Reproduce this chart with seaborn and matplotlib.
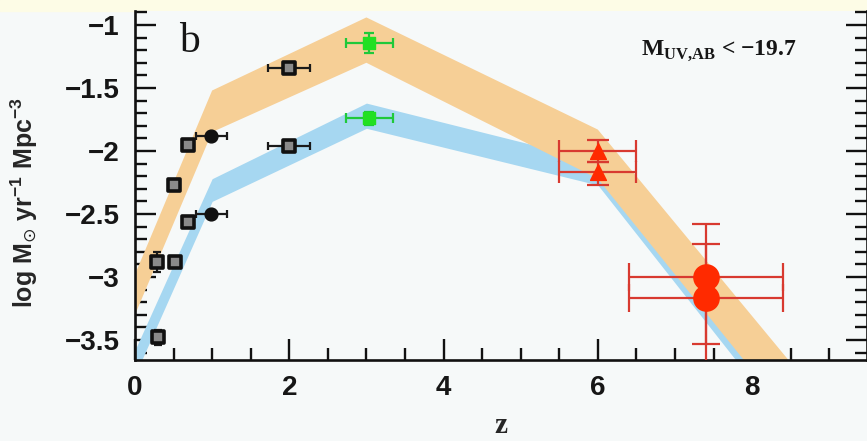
import numpy as np
import matplotlib
matplotlib.use("Agg")
import matplotlib.pyplot as plt
from matplotlib.patches import Rectangle
from matplotlib.ticker import MultipleLocator
import seaborn as sns
import pandas as pd

# ---- model bands (redshift nodes, log SFR density edges) ----
band_z = [0.0, 1.0, 3.0, 6.0, 9.0]
orange_hi = [-2.98, -1.52, -0.94, -1.83, -4.05]
orange_lo = [-3.30, -1.85, -1.30, -2.22, -4.50]
blue_hi = [-3.58, -2.22, -1.62, -2.08, -4.30]
blue_lo = [-3.78, -2.40, -1.82, -2.27, -4.60]

# ---- black open squares ----
sq_z = [0.28, 0.30, 0.50, 0.52, 0.69, 0.69, 2.0, 2.0]
sq_v = [-2.88, -3.48, -2.27, -2.88, -1.95, -2.56, -1.34, -1.96]
sq_xerr = [0.0, 0.0, 0.0, 0.0, 0.0, 0.0, 0.27, 0.27]
sq_yerr = [0.08, 0.06, 0.02, 0.02, 0.02, 0.02, 0.03, 0.03]

# ---- black filled circles ----
ci_z = [0.99, 0.99]
ci_v = [-1.88, -2.50]
ci_xerr = [0.2, 0.2]
ci_yerr = [0.02, 0.02]

# ---- green squares ----
gr_z = [3.04, 3.04]
gr_v = [-1.14, -1.74]
gr_xerr = [0.31, 0.31]
gr_yerr = [0.08, 0.05]

# ---- red triangles ----
tr_z = [6.0, 6.0]
tr_v = [-2.00, -2.17]
tr_xerr = [0.5, 0.5]
tr_yerr_lo = [0.09, 0.10]
tr_yerr_hi = [0.09, 0.08]

# ---- red circles ----
rc_z = [7.4, 7.4]
rc_v = [-3.00, -3.17]
rc_xerr = [1.0, 1.0]
rc_yerr_lo = [0.80, 0.36]
rc_yerr_hi = [0.42, 0.43]

xticks = [0, 2, 4, 6, 8]
yticks = [-1, -1.5, -2, -2.5, -3, -3.5]
ytick_labels = ['\u22121', '\u22121.5', '\u22122', '\u22122.5', '\u22123', '\u22123.5']

sns.set_style("ticks")
plt.rcParams['font.family'] = ['Liberation Sans', 'DejaVu Sans']
plt.rcParams['axes.unicode_minus'] = True

bg = '#f6f9f9'
fig = plt.figure(figsize=(8.67, 4.41), dpi=100, facecolor=bg)
fig.patches.append(Rectangle((0, 430 / 441), 1, 11 / 441, transform=fig.transFigure,
                             color='#fdfce6', zorder=-1))
ax = fig.add_axes([135 / 867, 81 / 441, (867 - 135) / 867, (360 - 11) / 441])
ax.set_facecolor(bg)

ax.fill_between(band_z, blue_lo, blue_hi, color='#a6d7f1', lw=0, zorder=1)
ax.fill_between(band_z, orange_lo, orange_hi, color='#f6cf96', lw=0, zorder=2)

# error bars
ax.errorbar(sq_z, sq_v, xerr=sq_xerr, yerr=sq_yerr, fmt='none', ecolor='#1a1a1a',
            elinewidth=1.6, capsize=3, capthick=1.6, zorder=4)
ax.errorbar(ci_z, ci_v, xerr=ci_xerr, yerr=ci_yerr, fmt='none', ecolor='#1a1a1a',
            elinewidth=1.6, capsize=3, capthick=1.6, zorder=4)
ax.errorbar(gr_z, gr_v, xerr=gr_xerr, yerr=gr_yerr, fmt='none', ecolor='#1fc93a',
            elinewidth=1.6, capsize=3.5, capthick=1.6, zorder=4)
ax.errorbar(tr_z, tr_v, xerr=tr_xerr, yerr=[tr_yerr_lo, tr_yerr_hi], fmt='none',
            ecolor='#d83a30', elinewidth=1.6, capsize=8, capthick=1.6, zorder=4)
ax.errorbar(rc_z, rc_v, xerr=rc_xerr, yerr=[rc_yerr_lo, rc_yerr_hi], fmt='none',
            ecolor='#d83a30', elinewidth=1.6, capsize=10, capthick=1.6, zorder=4)

# markers via seaborn
sns.scatterplot(x=sq_z, y=sq_v, marker='s', s=70, color='#8a8a8a', edgecolor='#111111',
                linewidth=2.6, ax=ax, zorder=5)
sns.scatterplot(x=ci_z, y=ci_v, marker='o', s=85, color='#111111', edgecolor='#111111',
                linewidth=1, ax=ax, zorder=5)
sns.scatterplot(x=gr_z, y=gr_v, marker='s', s=65, color='#22e022', edgecolor='#22e022',
                linewidth=1, ax=ax, zorder=5)
sns.scatterplot(x=tr_z, y=tr_v, marker='^', s=130, color='#ff2a00', edgecolor='#ff2a00',
                linewidth=1, ax=ax, zorder=5)
sns.scatterplot(x=rc_z, y=rc_v, marker='o', s=330, color='#ff2a00', edgecolor='#ff2a00',
                linewidth=1, ax=ax, zorder=5)

ax.set_xlim(0, 9.49)
ax.set_ylim(-3.659, -0.889)
ax.set_xticks(xticks)
ax.set_yticks(yticks)
ax.set_yticklabels(ytick_labels)
ax.xaxis.set_minor_locator(MultipleLocator(0.5))
ax.yaxis.set_minor_locator(MultipleLocator(0.1))
ax.tick_params(which='both', direction='in', color='#111111', width=1.7,
               right=True, top=False, labelsize=20)
ax.tick_params(which='major', length=15, pad=11)
ax.tick_params(which='minor', length=8.5)
for s in ['left', 'bottom', 'right']:
    ax.spines[s].set_linewidth(1.9)
    ax.spines[s].set_color('#111111')
ax.spines['top'].set_visible(False)
for t in ax.get_xticklabels() + ax.get_yticklabels():
    t.set_fontweight('bold')
    t.set_color('#161616')

ax.set_xlabel('z', fontsize=21, fontweight='bold', family='Liberation Serif')
ax.xaxis.set_label_coords(0.5, -(439 - 360) / 349)
ax.xaxis.label.set_va('bottom')
ax.set_ylabel(r'log M$_{\odot}$ yr$^{\mathregular{-1}}$ Mpc$^{\mathregular{-3}}$',
              fontsize=18, fontweight='bold')
ax.yaxis.set_label_coords(-(135 - 24) / 732, 0.451)
ax.yaxis.label.set_va('center')

ax.text(0.71, -1.135, 'b', fontsize=30, family='Liberation Serif', ha='center',
        va='center', color='#161616')
ax.text(7.57, -1.20, 'M$_{\\mathregular{UV{,}AB}}$ < \u221219.7', fontsize=17,
        fontweight='bold', family='Liberation Serif', ha='center', va='center',
        color='#161616')

fig.savefig('out.png', dpi=100, facecolor=bg)
